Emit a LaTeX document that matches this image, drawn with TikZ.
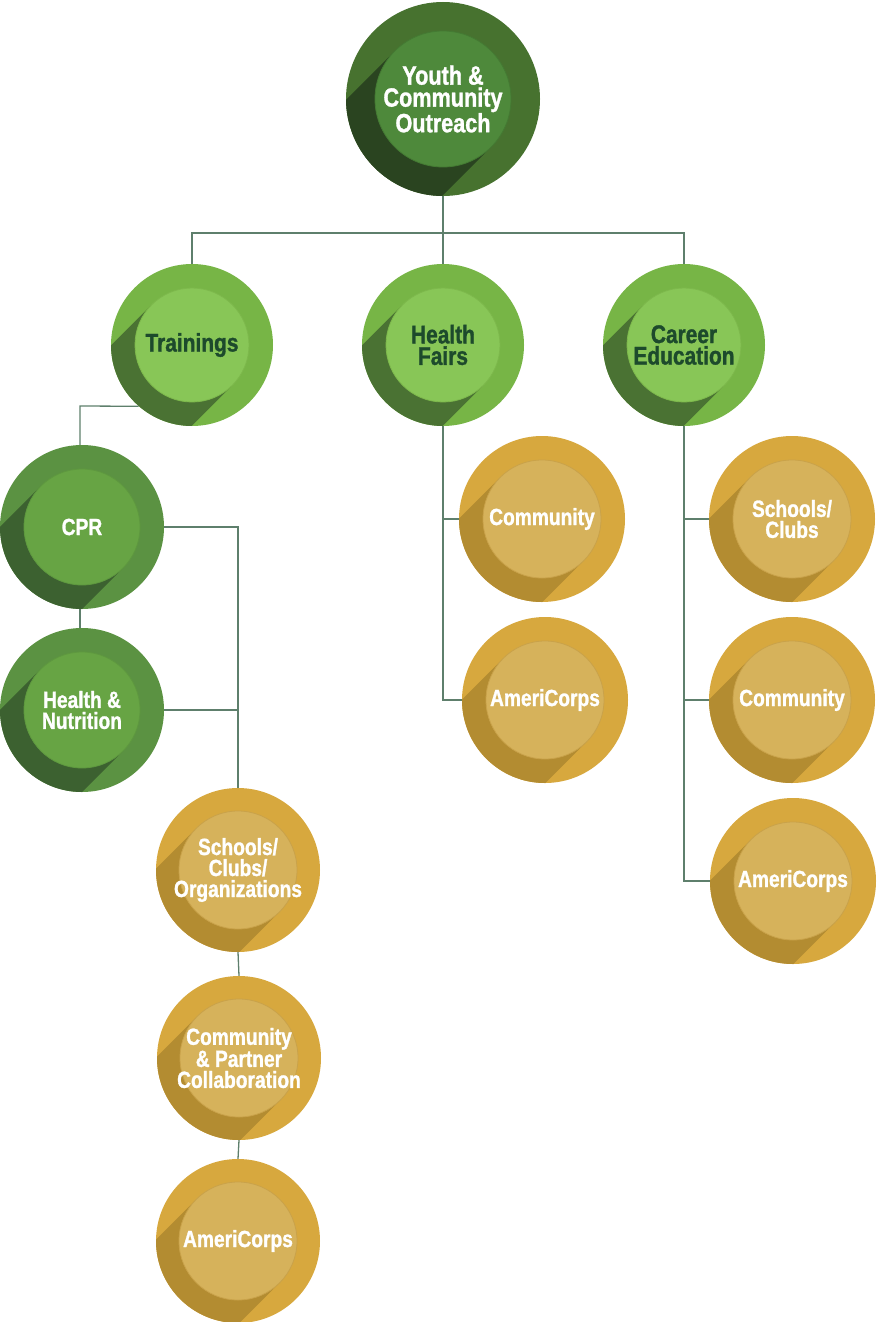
\documentclass[tikz,border=0pt]{standalone}
\usepackage{fontspec}
\setmainfont{Liberation Sans}[FakeStretch=0.82,BoldFeatures={FakeBold=1.2}]
\usetikzlibrary{calc}
\definecolor{topout}{HTML}{47722F}
\definecolor{topin}{HTML}{4E893B}
\definecolor{topsh}{HTML}{2A4420}
\definecolor{toprim}{HTML}{447A33}
\definecolor{lvout}{HTML}{77B546}
\definecolor{lvin}{HTML}{88C657}
\definecolor{lvsh}{HTML}{4A7233}
\definecolor{lvrim}{HTML}{7DB84C}
\definecolor{cpout}{HTML}{5B9242}
\definecolor{cpin}{HTML}{67A444}
\definecolor{cpsh}{HTML}{3C6130}
\definecolor{cprim}{HTML}{5E983F}
\definecolor{gdout}{HTML}{D7A83E}
\definecolor{gdin}{HTML}{D6B25B}
\definecolor{gdsh}{HTML}{B38C31}
\definecolor{gdrim}{HTML}{C9A24A}
\definecolor{linkc}{HTML}{5E7F6C}
\definecolor{darktxt}{HTML}{1D4A2C}
\tikzset{
  toptext/.style={text=white, font=\bfseries\fontsize{26.4}{22}\selectfont, align=center, inner sep=0pt},
  lvtext/.style={text=darktxt, font=\bfseries\fontsize{25.5}{21.5}\selectfont, align=center, inner sep=0pt},
  smtext/.style={text=white, font=\bfseries\fontsize{23.4}{21}\selectfont, align=center, inner sep=0pt},
  link/.style={draw=linkc, line width=1.3pt},
}
\newcommand{\bub}[8]{%
  \node[circle, minimum size={2*#4}, inner sep=0pt, fill=#6out] (#1) at (#2,#3) {};
  \begin{scope}
    \clip (#2,#3) circle[radius=#4];
    \fill[#6sh] ({#2-0.7071*#5},{#3-0.7071*#5}) -- ++({-2*#4},{2*#4})
      -- ({#2+0.7071*#5-2*#4},{#3+0.7071*#5+2*#4}) -- ({#2+0.7071*#5},{#3+0.7071*#5}) -- cycle;
  \end{scope}
  \fill[#6in] (#2,#3) circle[radius=#5];
  \draw[#6rim, line width=0.8pt] (#2,#3) circle[radius=#5];
  \node[#7] (#1-t) at (#2,#3) {#8};
}
\begin{document}
\begin{tikzpicture}[x=1pt,y=-1pt]
\useasboundingbox (0,0) rectangle (877,1322);
% bubbles
\bub{top}{443}{99}{97}{68}{top}{toptext}{Youth \&\\Community\\Outreach}
\bub{train}{192}{345}{81}{57}{lv}{lvtext}{Trainings}
\bub{hf}{443}{345}{81}{57}{lv}{lvtext}{Health\\Fairs}
\bub{ce}{684}{345}{81}{57}{lv}{lvtext}{Career\\Education}
\bub{cpr}{82}{527}{82}{58}{cp}{smtext}{CPR}
\bub{hn}{82}{710}{82}{58}{cp}{smtext}{Health \&\\Nutrition}
\bub{sco}{238}{870}{82}{59}{gd}{smtext}{Schools/\\Clubs/\\Organizations}
\bub{cpc}{239}{1058}{82}{59}{gd}{smtext}{Community\\\& Partner\\Collaboration}
\bub{ame}{238}{1241}{82}{59}{gd}{smtext}{AmeriCorps}
\bub{hfc}{542}{519}{83}{59}{gd}{smtext}{Community}
\bub{hfa}{545}{700}{83}{59}{gd}{smtext}{AmeriCorps}
\bub{ces}{792}{519}{83}{59}{gd}{smtext}{Schools/\\Clubs}
\bub{cec}{792}{700}{83}{59}{gd}{smtext}{Community}
\bub{cea}{793}{881}{83}{59}{gd}{smtext}{AmeriCorps}
% connectors
\coordinate (j1) at (443,233);
\coordinate (t1) at (80,406);
\draw[link] (top) -- (j1);
\draw[link] (train.north) |- (j1) -| (ce.north);
\draw[link] (j1) -- (hf.north);
\draw[link] (train.229) -- (t1) -- (t1 |- cpr.north);
\draw[link] (cpr.south -| t1) -- (hn.north -| t1);
\draw[link] (cpr.east) -| (sco.north);
\draw[link] (hn.east) -- (hn.east -| sco.north);
\draw[link] (sco.south) -- (cpc.north);
\draw[link] (cpc.south) -- (ame.north);
\draw[link] (hf.south) |- (hfa.west);
\draw[link] (hfc.west) -- (hfc.west -| hf.south);
\draw[link] (ce.south) |- (cea.west);
\draw[link] (ces.west) -- (ces.west -| ce.south);
\draw[link] (cec.west) -- (cec.west -| ce.south);
\end{tikzpicture}
\end{document}
